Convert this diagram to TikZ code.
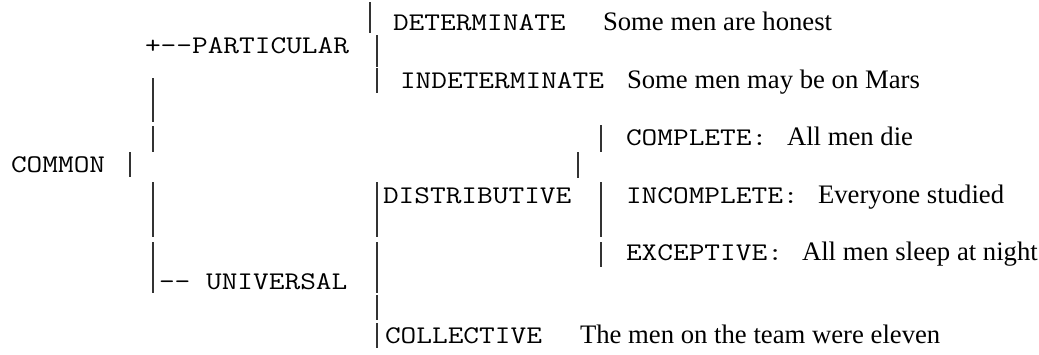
\documentclass[tikz,border=0pt]{standalone}
\usepackage{fontspec}
\setmainfont{Liberation Serif}
\setmonofont[FakeStretch=1.2]{Latin Modern Mono}
\begin{document}
\begin{tikzpicture}[x=1pt,y=-1pt,inner sep=0pt,outer sep=0pt,
mono/.style={anchor=base west,font=\fontsize{25.4}{30}\ttfamily},
prose/.style={anchor=base west,font=\fontsize{26.7}{30}\selectfont},
vbar/.style={draw=black!80,line width=1.2pt}]
\useasboundingbox (0,0) rectangle (1039,354);
% left part
\draw (11,172) node[mono] (common) {COMMON};
\draw (145,53) node[mono] (part) {+{-}{-}PARTICULAR};
\draw (159,289) node[mono] (univ) {{-}{-} UNIVERSAL};
% particular
\draw (393,30) node[mono] (det) {DETERMINATE};
\draw (603,30) node[prose] (detex) {Some men are honest};
\draw (400,88) node[mono] (indet) {INDETERMINATE};
\draw (627,88) node[prose] (indetex) {Some men may be on Mars};
% universal
\draw (383,203) node[mono] (distr) {DISTRIBUTIVE};
\draw (385,343) node[mono] (coll) {COLLECTIVE};
\draw (580,343) node[prose] (collex) {The men on the team were eleven};
% distributive
\draw (626,145) node[mono] (compl) {COMPLETE:};
\draw (787,145) node[prose] (complex) {All men die};
\draw (626,203) node[mono] (incompl) {INCOMPLETE:};
\draw (818,203) node[prose] (incomplex) {Everyone studied};
\draw (626,260) node[mono] (except) {EXCEPTIVE:};
\draw (802,260) node[prose] (exceptex) {All men sleep at night};
% the bars
\draw[vbar] (130,152) -- (130,177);
\draw[vbar] (153,78) -- (153,122);
\draw[vbar] (153,126) -- (153,152);
\draw[vbar] (153,182) -- (153,237);
\draw[vbar] (153,242) -- (153,293);
\draw[vbar] (370,2) -- (370,33);
\draw[vbar] (377,35) -- (377,67);
\draw[vbar] (377,68) -- (377,93);
\draw[vbar] (377,182) -- (377,237);
\draw[vbar] (377,242) -- (377,293);
\draw[vbar] (377,295) -- (377,320);
\draw[vbar] (377,323) -- (377,348);
\draw[vbar] (578,152) -- (578,178);
\draw[vbar] (601,125) -- (601,152);
\draw[vbar] (601,182) -- (601,237);
\draw[vbar] (601,242) -- (601,267);
\end{tikzpicture}
\end{document}
